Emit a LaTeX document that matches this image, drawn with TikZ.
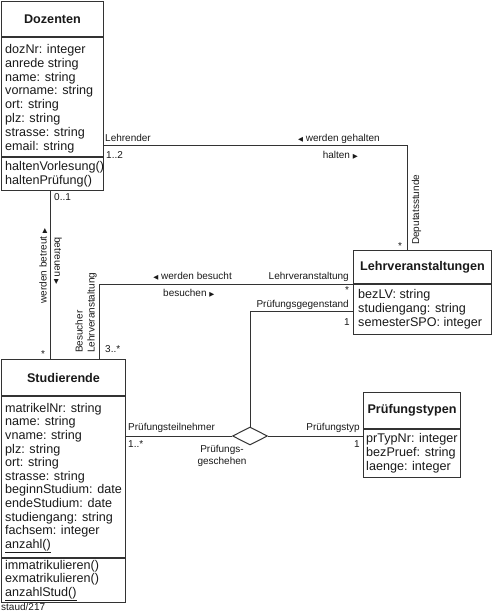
\documentclass[tikz,border=0pt]{standalone}
\usepackage{fontspec}
\setmainfont{Liberation Sans}
\newfontfamily\trifont{DejaVu Sans}
\newcommand\triL{{\trifont\fontsize{6.5}{6.5}\selectfont ◀}}
\newcommand\triR{{\trifont\fontsize{6.5}{6.5}\selectfont ▶}}
\usetikzlibrary{shapes.geometric}
\definecolor{linec}{gray}{0.2}
\definecolor{txt}{gray}{0.1}
\begin{document}
\begin{tikzpicture}[x=1pt,y=-1pt,
  cls/.style={draw=linec,line width=1pt,inner sep=0pt,anchor=north west,text=txt},
  ttl/.style={cls,font=\bfseries\fontsize{12.6}{14}\selectfont},
  cmpt/.style={inner sep=0pt,anchor=west,align=left,text=txt,font=\fontsize{12.6}{13.8}\selectfont},
  lbl/.style={inner sep=0pt,font=\fontsize{10}{12}\selectfont,text=txt},
  conn/.style={draw=linec,line width=1pt}]
\useasboundingbox (0,0) rectangle (492,613);

% Dozenten
\node[ttl,minimum width=102,minimum height=35] (dozT) at (1,1) {Dozenten};
\node[cls,minimum width=102,minimum height=119] (dozA) at (dozT.south west) {};
\node[cls,minimum width=102,minimum height=33] (dozO) at (dozA.south west) {};
\node[cmpt] (dozAt) at ([xshift=4pt,yshift=-1.5pt]dozA.west)
 {dozNr: integer\\anrede string\\name: string\\vorname: string\\ort: string\\plz: string\\strasse: string\\email: string};
\node[cmpt] (dozOt) at ([xshift=4pt]dozO.west)
 {haltenVorlesung()\\haltenPrüfung()};

% Studierende
\node[ttl,minimum width=124,minimum height=36] (studT) at (1,359) {Studierende};
\node[cls,minimum width=124,minimum height=161] (studA) at (studT.south west) {};
\node[cls,minimum width=124,minimum height=44] (studO) at (studA.south west) {};
\node[cmpt,font=\fontsize{12.6}{13.6}\selectfont] (studAt) at ([xshift=4pt,yshift=-1pt]studA.west)
 {matrikelNr: string\\name: string\\vname: string\\plz: string\\ort: string\\strasse: string\\beginnStudium: date\\endeStudium: date\\studiengang: string\\fachsem: integer\\\underline{anzahl()}};
\node[cmpt,font=\fontsize{12.6}{13.4}\selectfont] (studOt) at ([xshift=4pt]studO.west)
 {immatrikulieren()\\exmatrikulieren()\\\underline{anzahlStud()}};

% Lehrveranstaltungen
\node[ttl,minimum width=138,minimum height=33] (lvT) at (353,250) {Lehrveranstaltungen};
\node[cls,minimum width=138,minimum height=50] (lvA) at (lvT.south west) {};
\node[cmpt] (lvAt) at ([xshift=5pt]lvA.west)
 {bezLV: string\\studiengang: string\\semesterSPO: integer};

% Pruefungstypen
\node[ttl,minimum width=97,minimum height=36] (ptT) at (363,392) {Prüfungstypen};
\node[cls,minimum width=97,minimum height=48] (ptA) at (ptT.south west) {};
\node[cmpt] (ptAt) at ([xshift=3pt]ptA.west)
 {prTypNr: integer\\bezPruef: string\\laenge: integer};

% Diamond
\node[diamond,draw=linec,line width=1pt,minimum width=35,minimum height=18,inner sep=0pt,aspect=2] (dia) at (250,436) {};

% connectors
\coordinate (jDoz) at (407,145);
\coordinate (jBet) at (50,0);
\coordinate (jBes) at (99,283);
\coordinate (jPg) at (250,311);
\draw[conn] (dozA.east |- jDoz) -| (lvT.north -| jDoz);
\draw[conn] (dozO.south -| jBet) -- (studT.north -| jBet);
\draw[conn] (studT.north -| jBes) |- (lvT.south west);
\draw[conn] (lvA.west |- jPg) -| (dia.north);
\draw[conn] (studA.east |- dia.west) -- (dia.west);
\draw[conn] (dia.east) -- (ptA.west |- dia.east);

% labels
\node[lbl,anchor=base west] (l1) at (105,141) {Lehrender};
\node[lbl,anchor=base west] (l2) at (106,158) {1..2};
\node[lbl,anchor=base east] (l3) at (380,141) {\triL\ werden gehalten};
\node[lbl,anchor=base east] (l4) at (358,158) {halten \triR};
\node[lbl,anchor=base west,rotate=90] (l5) at (419,245) {Deputatsstunde};
\node[lbl,anchor=base] (l6) at (400,249) {*};
\node[lbl,anchor=base west] (l7) at (54,200) {0..1};
\node[lbl,anchor=base,rotate=90] (l8) at (46.5,266) {werden betreut \triR};
\node[lbl,anchor=base,rotate=-90] (l9) at (54.5,261) {betreuen \triR};
\node[lbl,anchor=base] (l10) at (43,357) {*};
\node[lbl,anchor=west,rotate=90,align=left] (l11) at (86,353) {Besucher\\Lehrveranstaltung};
\node[lbl,anchor=base west] (l12) at (105,352) {3..*};
\node[lbl,anchor=base east] (l13) at (232,279) {\triL\ werden besucht};
\node[lbl,anchor=base east] (l14) at (349,279) {Lehrveranstaltung};
\node[lbl,anchor=base west] (l15) at (163,296) {besuchen \triR};
\node[lbl,anchor=base] (l16) at (347,293) {*};
\node[lbl,anchor=base east] (l17) at (349,307) {Prüfungsgegenstand};
\node[lbl,anchor=base east] (l18) at (350,325) {1};
\node[lbl,anchor=base west] (l19) at (128,430) {Prüfungsteilnehmer};
\node[lbl,anchor=base west] (l20) at (128,447) {1..*};
\node[lbl,align=center] (l21) at (222,456) {Prüfungs-\\geschehen};
\node[lbl,anchor=base east] (l22) at (360,430) {Prüfungstyp};
\node[lbl,anchor=base east] (l23) at (360,447) {1};
\node[lbl,anchor=base west] (l24) at (1,610.5) {staud/217};
\end{tikzpicture}
\end{document}
